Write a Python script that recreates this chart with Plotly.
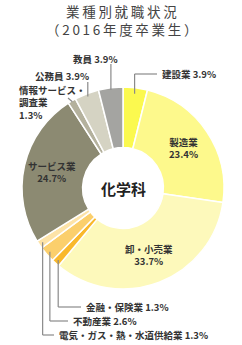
import math
import plotly.graph_objects as go

# ---- data ----
labels = ["建設業", "製造業", "卸・小売業", "金融・保険業", "不動産業",
          "電気・ガス・熱・水道供給業", "サービス業", "情報サービス・調査業", "公務員", "教員"]
values = [3.9, 23.4, 33.7, 1.3, 2.6, 1.3, 24.7, 1.3, 3.9, 3.9]
colors = ["#fbf94f", "#fdf98c", "#fdf9bb", "#f9b82c", "#fbcf6c",
          "#fde3a8", "#8c8a72", "#b4b19d", "#d5d3c3", "#a4a4a1"]
title_lines = ["業種別就職状況", "（2016年度卒業生）"]
center_text = "化学科"

W, H = 242, 345
CX, CY, R = 123, 188, 101
HOLE = 0.4
FONT = "Noto Sans CJK JP"
TXT = "#333333"
LINE = "#8a8a8a"

def px(x):
    return x / W

def py(y):
    return 1 - y / H

fig = go.Figure(go.Pie(
    labels=labels, values=values, sort=False, direction="clockwise", rotation=0,
    hole=HOLE, marker=dict(colors=colors, line=dict(color="white", width=1.5)),
    textinfo="none", hoverinfo="label+percent", showlegend=False,
    domain=dict(x=[px(CX - R), px(CX + R)], y=[py(CY + R), py(CY - R)]),
))

# slice mid angles (clockwise from 12 o'clock)
total = sum(values)
mids = []
acc = 0
for v in values:
    mids.append((acc + v / 2) / total * 2 * math.pi)
    acc += v

def anchor(i, rf=0.96):
    a = mids[i]
    return CX + R * rf * math.sin(a), CY - R * rf * math.cos(a)

shapes = []
annots = []

def seg(x0, y0, x1, y1):
    shapes.append(dict(type="line", xref="paper", yref="paper",
                       x0=px(x0), y0=py(y0), x1=px(x1), y1=py(y1),
                       line=dict(color=LINE, width=1.2)))

def text(x, y, s, size=9.5, xanchor="left", color=TXT, bold=True, align="left"):
    t = "<br>".join(f"<b>{p}</b>" if bold else p for p in s.split("\n"))
    annots.append(dict(xref="paper", yref="paper", x=px(x), y=py(y), text=t,
                       showarrow=False, xanchor=xanchor, yanchor="middle", align=align,
                       font=dict(family=FONT, size=size, color=color)))

def pct(v):
    return f"{v:.1f}%"

# title
text(121, 11, "\u2009".join(title_lines[0]), size=13.5, xanchor="center", color="#444444", bold=False)
text(121, 29, "\u2009".join(title_lines[1]), size=13.5, xanchor="center", color="#444444", bold=False)

# center label
text(CX, CY, center_text, size=15, xanchor="center", color="#222222")

# 建設業 (top right)
ax, ay = anchor(0, 0.94)
seg(ax, ay, ax, 74)
seg(ax, 74, 157, 74)
text(160, 74, f"{labels[0]} {pct(values[0])}")

# 教員
ax, ay = anchor(9, 0.98)
seg(ax, ay, ax, 64)
text(95, 59, f"{labels[9]} {pct(values[9])}", xanchor="center")

# 公務員
ax, ay = anchor(8, 0.97)
seg(ax, ay, ax, 82)
text(33, 76, f"{labels[8]} {pct(values[8])}")

# 情報サービス・調査業
ax, ay = anchor(7, 0.99)
seg(68, 98, ax, ay)
text(17, 102, f"情報サービス・\n調査業\n{pct(values[7])}")

# inside labels
for i, rf in [(1, 0.72), (2, 0.71), (6, 0.72)]:
    x, y = anchor(i, rf)
    text(x, y, f"{labels[i]}\n{pct(values[i])}", xanchor="center", align="center")

# bottom leader labels
for i, ly, lx in [(3, 307, 84), (4, 321, 71), (5, 335, 57)]:
    ax, ay = anchor(i, 0.96)
    seg(ax, ay, ax, ly)
    seg(ax, ly, lx - 3, ly)
    text(lx, ly, f"{labels[i]} {pct(values[i])}")

fig.update_layout(
    width=W, height=H, margin=dict(l=0, r=0, t=0, b=0),
    paper_bgcolor="white", plot_bgcolor="white",
    shapes=shapes, annotations=annots,
)

fig.write_html("out.html")
